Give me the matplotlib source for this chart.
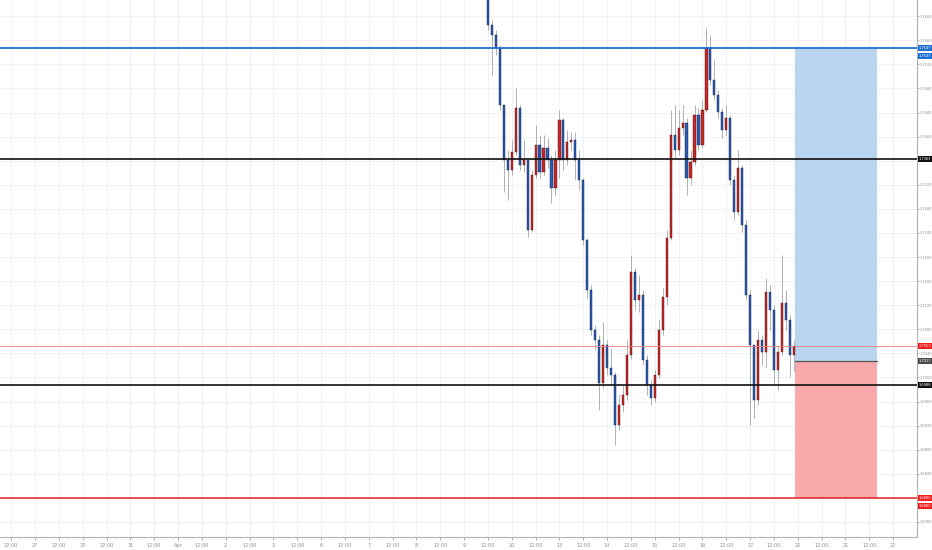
import numpy as np
import matplotlib
matplotlib.use('Agg')
import matplotlib.pyplot as plt

# candles, 2h bars from Apr 9 12:00 (day index 9.5)
first_open = 1.7643
closes = [1.7585, 1.7569, 1.7547, 1.7452, 1.7361, 1.7344, 1.7374, 1.7447, 1.7353, 1.7361,
          1.7245, 1.7336, 1.7386, 1.7341, 1.7381, 1.7361, 1.7315, 1.7361, 1.7427, 1.7361,
          1.7391, 1.7394, 1.7361, 1.7328, 1.7228, 1.7145, 1.7079, 1.7062, 1.6991, 1.7054,
          1.7016, 1.7004, 1.6921, 1.6954, 1.6971, 1.7037, 1.7175, 1.7129, 1.7137, 1.7029,
          1.6988, 1.6966, 1.7004, 1.7079, 1.7134, 1.7232, 1.7403, 1.7378, 1.7414, 1.7422,
          1.7331, 1.7358, 1.7436, 1.7386, 1.7444, 1.7547, 1.7494, 1.7469, 1.7441, 1.7411,
          1.7431, 1.7328, 1.7275, 1.7348, 1.7253, 1.7137, 1.7054, 1.6963, 1.7062, 1.7042,
          1.7142, 1.7112, 1.7012, 1.7042, 1.7124, 1.7095, 1.7037, 1.7052]
highs = [1.7643, 1.7593, 1.7577, 1.7552, 1.7452, 1.7378, 1.7394, 1.7481, 1.7452, 1.7394,
         1.7361, 1.7344, 1.7419, 1.7403, 1.7403, 1.7398, 1.7369, 1.7378, 1.7444, 1.7431,
         1.7411, 1.7408, 1.7408, 1.7378, 1.7331, 1.7232, 1.7154, 1.7087, 1.7071, 1.7092,
         1.7062, 1.7049, 1.7009, 1.6971, 1.6988, 1.7062, 1.7203, 1.7182, 1.7170, 1.7145,
         1.7037, 1.6996, 1.7013, 1.7095, 1.7149, 1.7245, 1.7444, 1.7452, 1.7444, 1.7452,
         1.7431, 1.7378, 1.7452, 1.7447, 1.7461, 1.7580, 1.7569, 1.7527, 1.7477, 1.7447,
         1.7452, 1.7436, 1.7336, 1.7378, 1.7353, 1.7261, 1.7145, 1.7046, 1.7079, 1.7070,
         1.7165, 1.7154, 1.7120, 1.7054, 1.7203, 1.7145, 1.7104, 1.7062]
lows = [1.7577, 1.7502, 1.7535, 1.7444, 1.7308, 1.7295, 1.7336, 1.7369, 1.7345, 1.7341,
        1.7233, 1.7242, 1.7331, 1.7331, 1.7336, 1.7348, 1.7290, 1.7303, 1.7331, 1.7345,
        1.7353, 1.7378, 1.7328, 1.7312, 1.7220, 1.7132, 1.7071, 1.7046, 1.6946, 1.6983,
        1.7004, 1.6988, 1.6888, 1.6913, 1.6943, 1.6963, 1.7030, 1.7112, 1.7109, 1.7021,
        1.6971, 1.6954, 1.6959, 1.6999, 1.7071, 1.7120, 1.7228, 1.7364, 1.7369, 1.7403,
        1.7303, 1.7320, 1.7353, 1.7378, 1.7381, 1.7441, 1.7486, 1.7461, 1.7431, 1.7398,
        1.7403, 1.7320, 1.7262, 1.7270, 1.7242, 1.7129, 1.6921, 1.6933, 1.6954, 1.7021,
        1.7016, 1.7079, 1.6988, 1.6979, 1.7037, 1.7079, 1.7001, 1.7009]

day_names = ['27', '30', '31', 'Apr', '2', '3', '6', '7', '8', '9', '10',
             '13', '14', '15', '16', '17', '20', '21', '22']

# horizontal levels
level_blue = 1.7547
level_black_1 = 1.7363
level_black_2 = 1.6988
level_red = 1.6800
last_price = 1.7052
entry = 1.7027
pos_start, pos_end = 15.94, 17.66

ymin, ymax = 1.6735, 1.7627
price_ticks = np.round(np.arange(1.6760, 1.7601, 0.004), 4)
hidden_ticks = [1.7360, 1.6800]   # covered by the level tags


def main():
    fig = plt.figure(figsize=(9.32, 5.5), dpi=100)
    ax = fig.add_axes([0, 13 / 550, 917 / 932, 537 / 550])

    c = np.array(closes)
    o = np.concatenate([[first_open], c[:-1]])
    h = np.maximum(np.array(highs), np.maximum(o, c))
    l = np.minimum(np.array(lows), np.minimum(o, c))
    t = 9.5 + np.arange(len(c)) / 12.0

    up = c >= o
    ax.vlines(t, l, h, color='#a0a4ab', lw=0.6, zorder=3)
    ax.bar(t[up], (c - o)[up], bottom=o[up], width=0.045, color='#c62828',
           edgecolor='#4a1414', lw=0.3, zorder=4)
    ax.bar(t[~up], (c - o)[~up], bottom=o[~up], width=0.045, color='#2d5bb0',
           edgecolor='#0d1f4a', lw=0.3, zorder=4)

    # position box
    ax.fill_between([pos_start, pos_end], entry, level_blue, color='#b9d5f0', lw=0, zorder=2)
    ax.fill_between([pos_start, pos_end], level_red, entry, color='#f9a9ab', lw=0, zorder=2)
    ax.plot([pos_start, pos_end], [entry, entry], color='#555555', lw=0.9, zorder=2)

    ax.axhline(level_blue, color='#1e6fd0', lw=1.3, zorder=5)
    ax.axhline(level_black_1, color='#111111', lw=1.2, zorder=5)
    ax.axhline(level_black_2, color='#111111', lw=1.2, zorder=5)
    ax.axhline(level_red, color='#e02424', lw=1.1, zorder=5)
    ax.axhline(last_price, color='#f08080', lw=0.6, zorder=5)

    ax.set_xlim(-0.734, 18.50)
    ax.set_ylim(ymin, ymax)

    xt = list(range(len(day_names))) + [d + 0.5 for d in range(-1, 18)]
    xl = day_names + ['12:00'] * 19
    ax.set_xticks(xt)
    ax.set_xticklabels(xl)
    ax.set_yticks(price_ticks)
    ax.set_yticklabels(['' if any(abs(p - q) < 1e-6 for q in hidden_ticks) else '%.4f' % p
                        for p in price_ticks])
    ax.yaxis.tick_right()
    ax.tick_params(axis='x', labelsize=3.6, colors='#8a8e96', length=2, width=0.5, pad=2)
    ax.tick_params(axis='y', labelsize=2.6, colors='#8a8e96', length=1.2, width=0.5, pad=0.8)
    ax.grid(True, color='#eef1f6', lw=0.7, zorder=0)

    for s in ['top', 'left']:
        ax.spines[s].set_visible(False)
    for s in ['right', 'bottom']:
        ax.spines[s].set_color('#b0b3b8')
        ax.spines[s].set_linewidth(0.8)

    # price labels on the scale
    tr = ax.get_yaxis_transform()
    tags = [(level_blue, 0, '#1e6fd0'),
            (level_blue, -8, '#1e6fd0'),
            (level_black_1, 0, '#111111'),
            (last_price, 0, '#f01e1e'),
            (entry, 0, '#4a4a4a'),
            (level_black_2, 0, '#111111'),
            (level_red, 0, '#f01e1e'),
            (level_red, -8, '#f01e1e')]
    for val, off, bg in tags:
        ax.annotate('%.4f' % val, xy=(1, val), xycoords=tr, xytext=(1.2, off * 0.72),
                    textcoords='offset points', va='center', ha='left', fontsize=2.6,
                    color='white', annotation_clip=False, zorder=10,
                    bbox=dict(boxstyle='square,pad=0.3', fc=bg, ec='none'))

    fig.savefig('out.png', dpi=100, facecolor='white')


if __name__ == "__main__":
    main()
